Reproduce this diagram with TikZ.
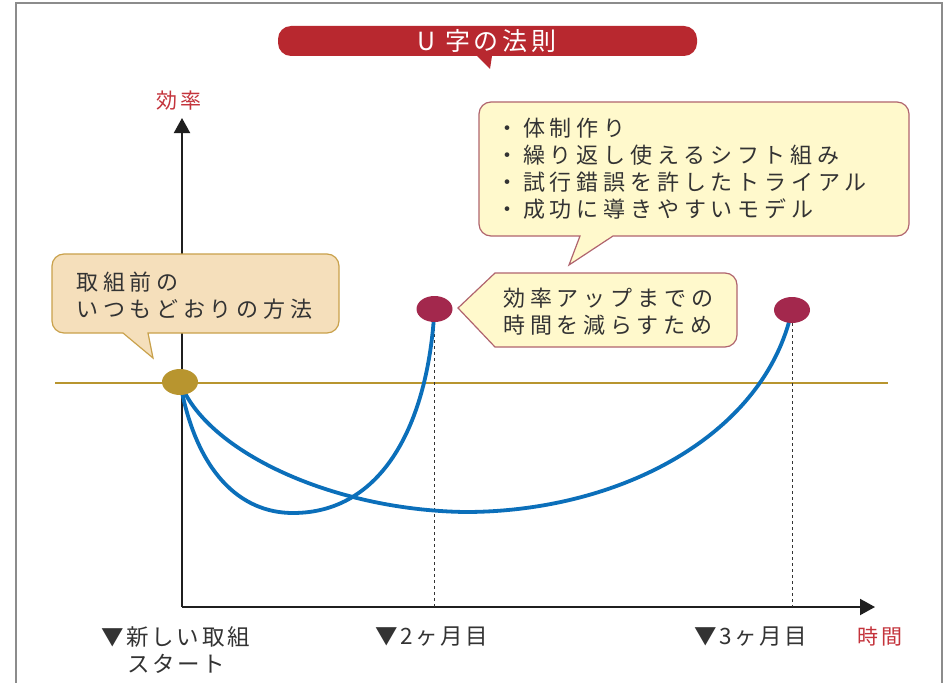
\documentclass[tikz,border=0pt]{standalone}
\usepackage{fontspec}
\usetikzlibrary{arrows.meta,shapes.geometric}
\newfontfamily\jpbody[LetterSpace=22]{Noto Sans CJK JP}
\newfontfamily\jptitle[LetterSpace=15]{Noto Sans CJK JP}
\newfontfamily\jplab[LetterSpace=12]{Noto Sans CJK JP}
\definecolor{titlered}{HTML}{B8282F}
\definecolor{tanfill}{HTML}{F5DFBB}
\definecolor{tanline}{HTML}{C9A14B}
\definecolor{yelfill}{HTML}{FFF9CC}
\definecolor{yelline}{HTML}{B0646E}
\definecolor{goldc}{HTML}{B8952F}
\definecolor{crimsonc}{HTML}{A3284D}
\definecolor{ublue}{HTML}{0B6FBA}
\definecolor{txt}{HTML}{333333}
\definecolor{lblred}{HTML}{C4343C}
\definecolor{framegray}{HTML}{8C8C8C}
\pgfdeclarelayer{bg}
\pgfsetlayers{bg,main}
\tikzset{
  dotnode/.style={ellipse, minimum width=36pt, minimum height=26pt, inner sep=0pt, draw=none},
  axisline/.style={line width=2pt, draw=black!88, -{Triangle[length=15pt,width=16pt]}},
  goldline/.style={line width=2.5pt, draw=goldc},
  curveline/.style={line width=3.8pt, draw=ublue},
  guideline/.style={line width=1pt, draw=black!80, dash pattern=on 3pt off 3pt},
  bodytext/.style={font=\jpbody\fontsize{22}{27}\selectfont, text=txt, inner sep=0pt, align=left, anchor=west},
  labtext/.style={font=\jplab\fontsize{22.5}{26}\selectfont, text=txt, inner sep=0pt, anchor=west},
  redtext/.style={font=\jptitle\fontsize{21}{24}\selectfont, text=lblred, inner sep=0pt},
  tanbubble/.style={fill=tanfill, draw=tanline, line width=1.2pt},
  yelbubble/.style={fill=yelfill, draw=yelline, line width=1.2pt},
}
\begin{document}
\begin{tikzpicture}[x=1pt,y=-1pt]
\useasboundingbox (0,0) rectangle (944,682);

% point markers
\node[dotnode, fill=goldc] (start) at (180,382) {};
\node[dotnode, fill=crimsonc] (p2) at (434.5,309) {};
\node[dotnode, fill=crimsonc] (p3) at (792,310) {};

\coordinate (O) at (182,607);
\coordinate (xtip) at (875,607);
\coordinate (ytip) at (182,118);
\coordinate (gL) at (55,383);
\coordinate (gR) at (888,383);

\begin{pgfonlayer}{bg}
  \fill[white] (0,0) rectangle (944,682);
  \draw[framegray, line width=2pt] (16,690) -- (16,3.5) -- (942,3.5) -- (942,690);
  \draw[axisline] (O) -- (ytip);
  \draw[axisline] (O) -- (xtip);
  \draw[goldline] (gL) -- (gR);
  \draw[guideline] (p2) -- (p2 |- O);
  \draw[guideline] (p3) -- (p3 |- O);
  \draw[curveline] (start.center) .. controls (196,472) and (240,513) .. (293,513)
        .. controls (382,513) and (428,425) .. (p2.center);
  \draw[curveline] (start.center) .. controls (205,450) and (330,510) .. (465,512)
        .. controls (620,512) and (765,435) .. (p3.center);
\end{pgfonlayer}

% title banner
\fill[titlered] (490,69) -- (477,56) -- (400,56) [rounded corners=13pt] -- (278,56) -- (278,26)
   -- (697,26) -- (697,56) -- (600,56) [sharp corners] -- (492,56) -- cycle;
\node[font=\jptitle\fontsize{25}{28}\selectfont, text=white, inner sep=0pt] (title) at (487,41) {U 字の法則};

% axis labels
\node[redtext] (ylab) at (179,101) {効率};
\node[redtext] (xlab) at (880,637) {時間};

% left tan bubble
\draw[tanbubble] (153,358) -- (123,333) -- (90,333) [rounded corners=12pt] -- (52,333) -- (52,254)
   -- (339,254) -- (339,333) -- (250,333) [sharp corners] -- (148,333) -- cycle;
\node[bodytext] (before) at (76,296) {取組前の\\いつもどおりの方法};

% top-right yellow bubble
\draw[yelbubble] (569,265) -- (580,236) -- (530,236) [rounded corners=12pt] -- (479,236) -- (479,102)
   -- (909,102) -- (909,236) -- (760,236) [sharp corners] -- (613,236) -- cycle;
\node[bodytext] (points) at (496,168.5) {・体制作り\\・繰り返し使えるシフト組み\\・試行錯誤を許したトライアル\\・成功に導きやすいモデル};

% middle yellow bubble
\draw[yelbubble] (458,308) -- (495,273) -- (600,273) [rounded corners=12pt] -- (737,273) -- (737,347)
   -- (650,347) [sharp corners] -- (495,347) -- cycle;
\node[bodytext] (purpose) at (503,311.5) {効率アップまでの\\時間を減らすため};

% time labels
\node[labtext] (lab1) at (101,637) {▼新しい取組};
\node[labtext] (lab1b) at (127,664) {スタート};
\node[labtext] (lab2) at (375,637) {▼2ヶ月目};
\node[labtext] (lab3) at (694,637) {▼3ヶ月目};
\end{tikzpicture}
\end{document}
